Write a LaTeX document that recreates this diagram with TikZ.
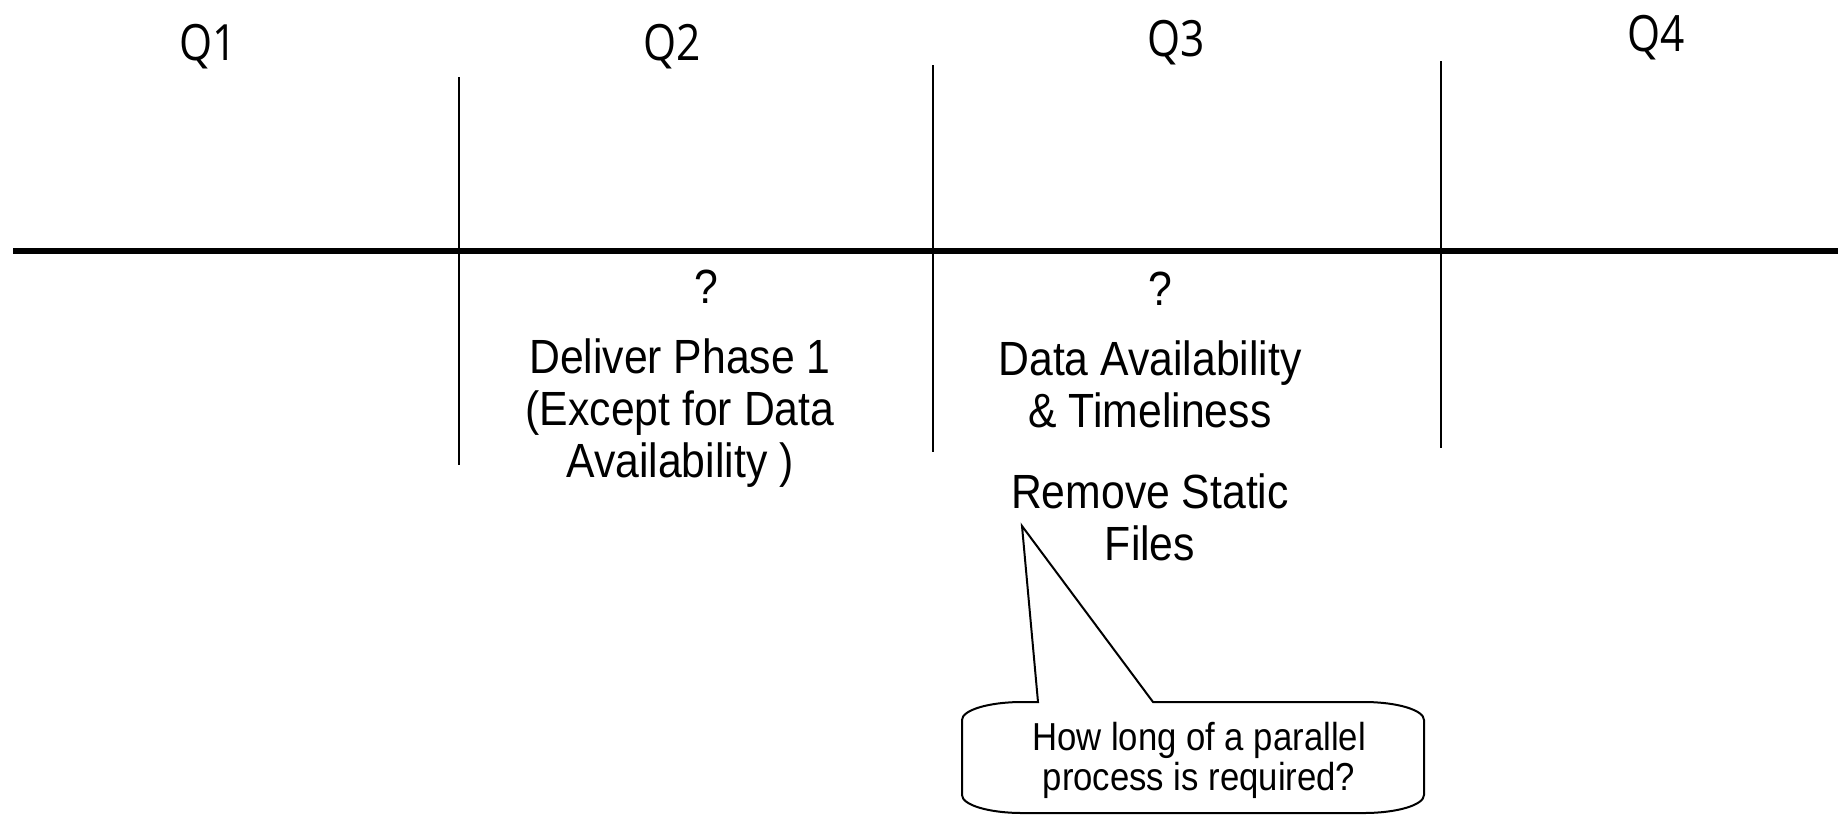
\documentclass[tikz,border=0pt]{standalone}
\usepackage{fontspec}
\setmainfont{Liberation Sans}[FakeStretch=0.89]
\newfontfamily\qfont{Open Sans}[FakeStretch=0.85]
\begin{document}
\begin{tikzpicture}[x=1pt,y=-1pt,
  qlabel/.style={font=\qfont\fontsize{50}{54}\selectfont, inner sep=0pt, anchor=base},
  body/.style={font=\fontsize{48}{52}\selectfont, align=center, inner sep=0pt, anchor=base},
  note/.style={font=\fontsize{39}{40}\selectfont, align=center, inner sep=0pt, anchor=base},
  divider/.style={line width=2pt},
  timeline/.style={line width=6pt},
  bubble/.style={line width=2pt, line join=miter}]
\useasboundingbox (0,0) rectangle (1845,815);

% quarter labels
\node[qlabel] (q1) at (208,60) {Q1};
\node[qlabel] (q2) at (672,60) {Q2};
\node[qlabel] (q3) at (1176,56) {Q3};
\node[qlabel] (q4) at (1656,51) {Q4};

% timeline
\coordinate (tlL) at (13,251);
\coordinate (tlR) at (1838,251);
\draw[timeline] (tlL) -- (tlR);

% dividers
\coordinate (d1t) at (459,77);  \coordinate (d1b) at (459,465);
\coordinate (d2t) at (933,65);  \coordinate (d2b) at (933,452);
\coordinate (d3t) at (1441,61); \coordinate (d3b) at (1441,448);
\draw[divider] (d1t) -- (d1b);
\draw[divider] (d2t) -- (d2b);
\draw[divider] (d3t) -- (d3b);

% milestone texts (base anchor = last line's baseline)
\node[body] (qm1) at (706,303) {?};
\node[body] (qm2) at (1160,305) {?};
\node[body] (deliver) at (680,477) {Deliver Phase 1\\(Except for Data\\Availability )};
\node[body] (avail) at (1150,427) {Data Availability\\\& Timeliness};
\node[body] (remove) at (1150,560) {Remove Static\\Files};

% callout
\coordinate (tip) at (1022,526);
\draw[bubble]
  (1038,702) -- (tip) -- (1153,702) -- (1364,702)
  .. controls (1397,702) and (1424,710) .. (1424,720)
  -- (1424,795)
  .. controls (1424,805) and (1397,813) .. (1364,813)
  -- (1022,813)
  .. controls (989,813) and (962,805) .. (962,795)
  -- (962,720)
  .. controls (962,710) and (989,702) .. (1022,702)
  -- cycle;
\node[note] (callout) at (1199,790) {How long of a parallel\\process is required?};
\end{tikzpicture}
\end{document}
